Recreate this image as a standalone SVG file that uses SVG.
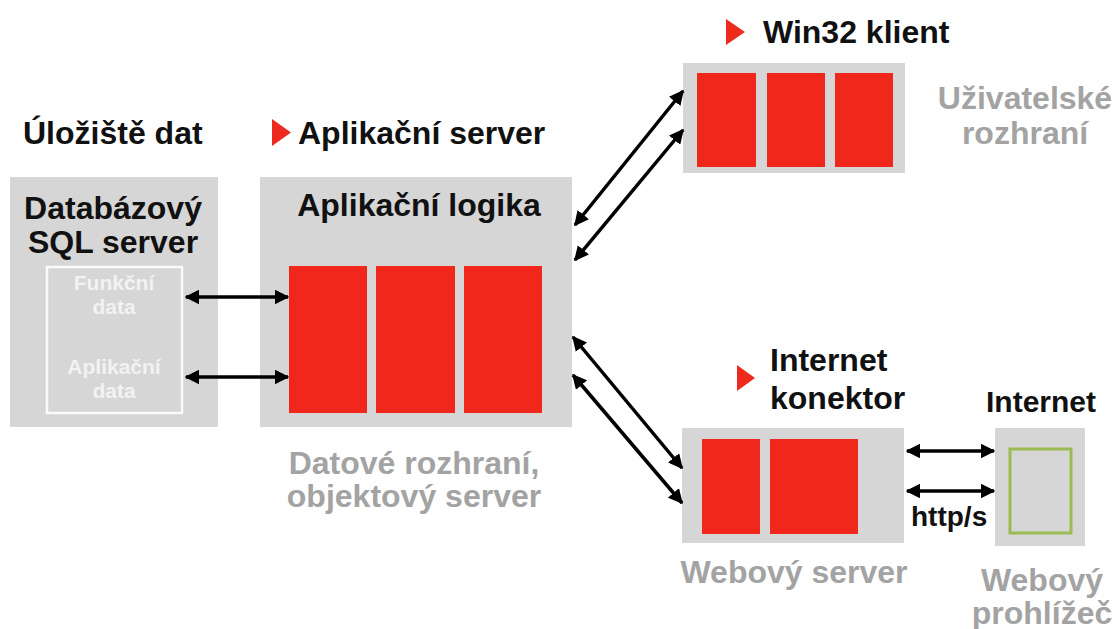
<svg xmlns="http://www.w3.org/2000/svg" width="1118" height="629" viewBox="0 0 1118 629">
<style>
.box{fill:#d6d6d6}
.red{fill:#f1271c}
.t{font-family:"Liberation Sans",Arial,sans-serif;font-weight:bold;fill:#111;font-size:32px}
.g{font-family:"Liberation Sans",Arial,sans-serif;font-weight:bold;fill:#a3a3a3;font-size:32px}
.w{font-family:"Liberation Sans",Arial,sans-serif;font-weight:bold;fill:#f2f2f2;font-size:21px}
.tri{fill:#ee2a1e}
.c line{stroke:#000;stroke-width:3.5;marker-start:url(#ah);marker-end:url(#ah)}
</style>
<defs>
<marker id="ah" viewBox="0 0 10 10" refX="9" refY="5" markerWidth="4.2" markerHeight="4.2" orient="auto-start-reverse" markerUnits="strokeWidth">
<path d="M0,0 L10,5 L0,10 z" fill="#000"/>
</marker>
</defs>
<rect width="1118" height="629" fill="#fff"/>

<g id="storage-title">
<text class="t" x="23" y="144">Úložiště dat</text>
</g>

<g id="db-server">
<rect class="box" x="10" y="177" width="208" height="250"/>
<text class="t" x="113" y="219" text-anchor="middle">Databázový</text>
<text class="t" x="113" y="253" text-anchor="middle">SQL server</text>
<rect x="47" y="267" width="135" height="146" fill="none" stroke="#fafafa" stroke-width="2.5"/>
<text class="w" x="114" y="290" text-anchor="middle">Funkční</text>
<text class="w" x="114" y="314" text-anchor="middle">data</text>
<text class="w" x="114" y="374" text-anchor="middle">Aplikační</text>
<text class="w" x="114" y="398" text-anchor="middle">data</text>
</g>

<g id="app-server">
<polygon class="tri" points="272,119 291,132.5 272,146"/>
<text class="t" x="298" y="144">Aplikační server</text>
<rect class="box" x="260" y="177" width="312" height="250"/>
<text class="t" x="419" y="216" text-anchor="middle">Aplikační logika</text>
<rect class="red" x="289" y="266" width="78" height="147"/>
<rect class="red" x="376" y="266" width="79" height="147"/>
<rect class="red" x="464" y="266" width="78" height="147"/>
<text class="g" x="414" y="474" text-anchor="middle">Datové rozhraní,</text>
<text class="g" x="414" y="507" text-anchor="middle">objektový server</text>
</g>

<g id="win32-client">
<polygon class="tri" points="726,19 745,32 726,45"/>
<text class="t" x="763" y="43">Win32 klient</text>
<rect class="box" x="683" y="63" width="222" height="110"/>
<rect class="red" x="697" y="73" width="59" height="94"/>
<rect class="red" x="767" y="73" width="58" height="94"/>
<rect class="red" x="835" y="73" width="58" height="94"/>
<text class="g" x="1025" y="109" text-anchor="middle">Uživatelské</text>
<text class="g" x="1025" y="144" text-anchor="middle">rozhraní</text>
</g>

<g id="internet-connector">
<polygon class="tri" points="737,365 755,378 737,391"/>
<text class="t" x="770" y="371">Internet</text>
<text class="t" x="770" y="409">konektor</text>
<rect class="box" x="682" y="428" width="222" height="115"/>
<rect class="red" x="702" y="439" width="58" height="95"/>
<rect class="red" x="770" y="439" width="88" height="95"/>
<text class="g" x="794" y="583" text-anchor="middle">Webový server</text>
</g>

<g id="internet-browser">
<text class="t" x="1041" y="412" style="font-size:30px" text-anchor="middle">Internet</text>
<rect class="box" x="995" y="428" width="90" height="118"/>
<rect x="1010" y="449" width="61" height="84" fill="none" stroke="#9bbb52" stroke-width="3"/>
<text class="g" x="1042" y="591" text-anchor="middle">Webový</text>
<text class="g" x="1042" y="624" text-anchor="middle">prohlížeč</text>
</g>

<g id="connectors" class="c">
<line x1="186" y1="297" x2="288" y2="297"/>
<line x1="186" y1="377" x2="288" y2="377"/>
<line x1="575" y1="225" x2="683" y2="91"/>
<line x1="575" y1="260" x2="683" y2="130"/>
<line x1="573" y1="337" x2="682" y2="468"/>
<line x1="573" y1="375" x2="682" y2="503"/>
<line x1="907" y1="451" x2="994" y2="451"/>
<line x1="907" y1="491" x2="994" y2="491"/>
</g>
<text class="t" x="911" y="526" style="font-size:28px">http/s</text>
</svg>
